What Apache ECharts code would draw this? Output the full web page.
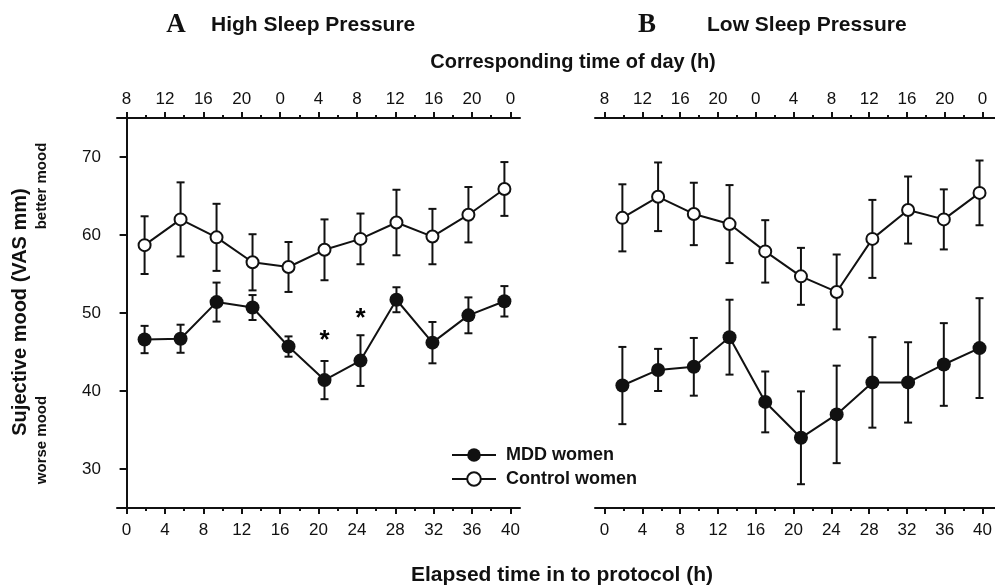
<!DOCTYPE html>
<html>
<head>
<meta charset="utf-8">
<script src="https://cdn.jsdelivr.net/npm/echarts@6/dist/echarts.min.js"></script>
<style>
  html, body { margin: 0; padding: 0; background: #fff; }
  #chart { width: 995px; height: 588px; }
</style>
</head>
<body>
<div id="chart"></div>
<script>
// elapsed time of each bin (h)
const elapsed = [1.875, 5.625, 9.375, 13.125, 16.875, 20.625, 24.375, 28.125, 31.875, 35.625, 39.375]

// A: high sleep pressure
const highMdd = [46.6, 46.7, 51.4, 50.7, 45.7, 41.4, 43.9, 51.7, 46.2, 49.7, 51.5]
const highMddErr = [1.75, 1.8, 2.5, 1.6, 1.3, 2.45, 3.25, 1.6, 2.65, 2.3, 1.95]
const highCtrl = [58.7, 62.0, 59.7, 56.5, 55.9, 58.1, 59.5, 61.6, 59.8, 62.6, 65.9]
const highCtrlErr = [3.7, 4.75, 4.3, 3.6, 3.2, 3.9, 3.25, 4.2, 3.55, 3.55, 3.45]

// B: low sleep pressure
const lowMdd = [40.7, 42.7, 43.1, 46.9, 38.6, 34.0, 37.0, 41.1, 41.1, 43.4, 45.5]
const lowMddErr = [4.95, 2.7, 3.7, 4.8, 3.9, 5.95, 6.25, 5.8, 5.15, 5.3, 6.4]
const lowCtrl = [62.2, 64.9, 62.7, 61.4, 57.9, 54.7, 52.7, 59.5, 63.2, 62.0, 65.4]
const lowCtrlErr = [4.3, 4.4, 4.0, 5.0, 4.0, 3.65, 4.8, 5.0, 4.3, 3.85, 4.15]

// significance marks (panel A)
const starPoints = [[20.625, 46.4], [24.375, 49.2]]

const yTicks = [30, 40, 50, 60, 70]
const seriesNames = ['MDD women', 'Control women']

const FONT = '"Liberation Sans", Arial, sans-serif'
const INK = '#111'

const chart = echarts.init(document.getElementById('chart'))

function pairs(ys) {
  return elapsed.map((x, i) => [x, ys[i]])
}

function errBars(name, ys, errs, gi) {
  return {
    type: 'custom',
    name: name + ' err',
    xAxisIndex: gi * 2,
    yAxisIndex: gi,
    z: 1,
    silent: true,
    data: elapsed.map((x, i) => [x, ys[i] - errs[i], ys[i] + errs[i]]),
    renderItem: (params, api) => {
      const lo = api.coord([api.value(0), api.value(1)])
      const hi = api.coord([api.value(0), api.value(2)])
      const w = 4
      const style = { stroke: INK, lineWidth: 2 }
      return {
        type: 'group',
        children: [
          { type: 'line', shape: { x1: lo[0], y1: lo[1], x2: hi[0], y2: hi[1] }, style },
          { type: 'line', shape: { x1: lo[0] - w, y1: lo[1], x2: lo[0] + w, y2: lo[1] }, style },
          { type: 'line', shape: { x1: hi[0] - w, y1: hi[1], x2: hi[0] + w, y2: hi[1] }, style }
        ]
      }
    }
  }
}

function mddLine(ys, gi) {
  return {
    type: 'line',
    name: seriesNames[0],
    xAxisIndex: gi * 2,
    yAxisIndex: gi,
    z: 3,
    data: pairs(ys),
    symbol: 'circle',
    symbolSize: 14,
    lineStyle: { color: INK, width: 2 },
    itemStyle: { color: INK }
  }
}

function ctrlLine(ys, gi) {
  return {
    type: 'line',
    name: seriesNames[1],
    xAxisIndex: gi * 2,
    yAxisIndex: gi,
    z: 3,
    data: pairs(ys),
    symbol: 'circle',
    symbolSize: 12,
    lineStyle: { color: INK, width: 2 },
    itemStyle: { color: '#fff', borderColor: INK, borderWidth: 2 }
  }
}

// data grid axis: only the line
function lineAxis(gi, position) {
  return {
    type: 'value',
    gridIndex: gi,
    position,
    min: -1,
    max: 41,
    axisLine: { show: true, lineStyle: { color: INK, width: 2 } },
    axisTick: { show: false },
    axisLabel: { show: false },
    splitLine: { show: false }
  }
}

// inset grid axis: ticks and labels 0..40
function tickAxis(gi, position, formatter) {
  return {
    type: 'value',
    gridIndex: gi,
    position,
    min: 0,
    max: 40,
    interval: 4,
    axisLine: { show: false },
    axisTick: { show: true, length: 6, lineStyle: { color: INK, width: 2 } },
    minorTick: { show: true, splitNumber: 2, length: 3, lineStyle: { color: INK, width: 2 } },
    axisLabel: {
      show: true,
      margin: position === 'top' ? 10 : 14,
      fontFamily: FONT,
      fontSize: 17,
      color: INK,
      formatter
    },
    splitLine: { show: false }
  }
}

const hiddenY = gi => ({
  type: 'value', gridIndex: gi, min: 25, max: 75, show: false, splitLine: { show: false }
})

const unit = 403 / 42

const option = {
  animation: false,
  backgroundColor: '#fff',
  grid: [
    { left: 117, top: 118, width: 403, height: 390 },
    { left: 595, top: 118, width: 403, height: 390 },
    { left: 117 + unit, top: 118, width: 403 - 2 * unit, height: 390 },
    { left: 595 + unit, top: 118, width: 403 - 2 * unit, height: 390 }
  ],
  xAxis: [
    lineAxis(0, 'bottom'),
    lineAxis(0, 'top'),
    lineAxis(1, 'bottom'),
    lineAxis(1, 'top'),
    tickAxis(2, 'bottom'),
    tickAxis(2, 'top', v => String((v + 8) % 24)),
    tickAxis(3, 'bottom'),
    tickAxis(3, 'top', v => String((v + 8) % 24))
  ],
  yAxis: [
    {
      type: 'value',
      gridIndex: 0,
      min: 25,
      max: 75,
      axisLine: { show: true, lineStyle: { color: INK, width: 2 } },
      axisTick: { show: true, length: 7, customValues: yTicks, lineStyle: { color: INK, width: 2 } },
      axisLabel: { show: true, customValues: yTicks, margin: 16, fontFamily: FONT, fontSize: 17, color: INK },
      splitLine: { show: false }
    },
    hiddenY(1),
    hiddenY(2),
    hiddenY(3)
  ],
  legend: {
    data: seriesNames,
    orient: 'vertical',
    left: 446,
    top: 441,
    itemWidth: 44,
    itemHeight: 17,
    itemGap: 6,
    textStyle: { fontFamily: FONT, fontSize: 18, fontWeight: 'bold', color: INK, padding: [0, 0, 0, 5] }
  },
  graphic: [
    { type: 'text', x: 176, y: 25, style: { text: 'A', font: 'bold 27px "Liberation Serif", "Times New Roman", serif', fill: INK, align: 'center', verticalAlign: 'middle' } },
    { type: 'text', x: 211, y: 25, style: { text: 'High Sleep Pressure', font: 'bold 21px ' + FONT, fill: INK, align: 'left', verticalAlign: 'middle' } },
    { type: 'text', x: 647, y: 25, style: { text: 'B', font: 'bold 27px "Liberation Serif", "Times New Roman", serif', fill: INK, align: 'center', verticalAlign: 'middle' } },
    { type: 'text', x: 707, y: 25, style: { text: 'Low Sleep Pressure', font: 'bold 21px ' + FONT, fill: INK, align: 'left', verticalAlign: 'middle' } },
    { type: 'text', x: 573, y: 62, style: { text: 'Corresponding time of day (h)', font: 'bold 20px ' + FONT, fill: INK, align: 'center', verticalAlign: 'middle' } },
    { type: 'text', x: 562, y: 575, style: { text: 'Elapsed time in to protocol (h)', font: 'bold 21px ' + FONT, fill: INK, align: 'center', verticalAlign: 'middle' } },
    { type: 'text', x: 20, y: 312, rotation: Math.PI / 2, style: { text: 'Sujective mood (VAS mm)', font: 'bold 20px ' + FONT, fill: INK, align: 'center', verticalAlign: 'middle' } },
    { type: 'text', x: 42, y: 186, rotation: Math.PI / 2, style: { text: 'better mood', font: 'bold 15px ' + FONT, fill: INK, align: 'center', verticalAlign: 'middle' } },
    { type: 'text', x: 42, y: 440, rotation: Math.PI / 2, style: { text: 'worse mood', font: 'bold 15px ' + FONT, fill: INK, align: 'center', verticalAlign: 'middle' } }
  ],
  series: [
    errBars('high ctrl', highCtrl, highCtrlErr, 0),
    errBars('high mdd', highMdd, highMddErr, 0),
    errBars('low ctrl', lowCtrl, lowCtrlErr, 1),
    errBars('low mdd', lowMdd, lowMddErr, 1),
    mddLine(highMdd, 0),
    ctrlLine(highCtrl, 0),
    mddLine(lowMdd, 1),
    ctrlLine(lowCtrl, 1),
    {
      type: 'scatter',
      name: 'significance',
      xAxisIndex: 0,
      yAxisIndex: 0,
      silent: true,
      z: 5,
      symbolSize: 1,
      itemStyle: { color: 'rgba(0,0,0,0)' },
      data: starPoints,
      label: {
        show: true,
        position: 'inside',
        formatter: '*',
        fontFamily: FONT,
        fontSize: 26,
        fontWeight: 'bold',
        color: '#000',
        textBorderWidth: 0,
        opacity: 1
      }
    }
  ]
}

chart.setOption(option)
</script>
</body>
</html>
